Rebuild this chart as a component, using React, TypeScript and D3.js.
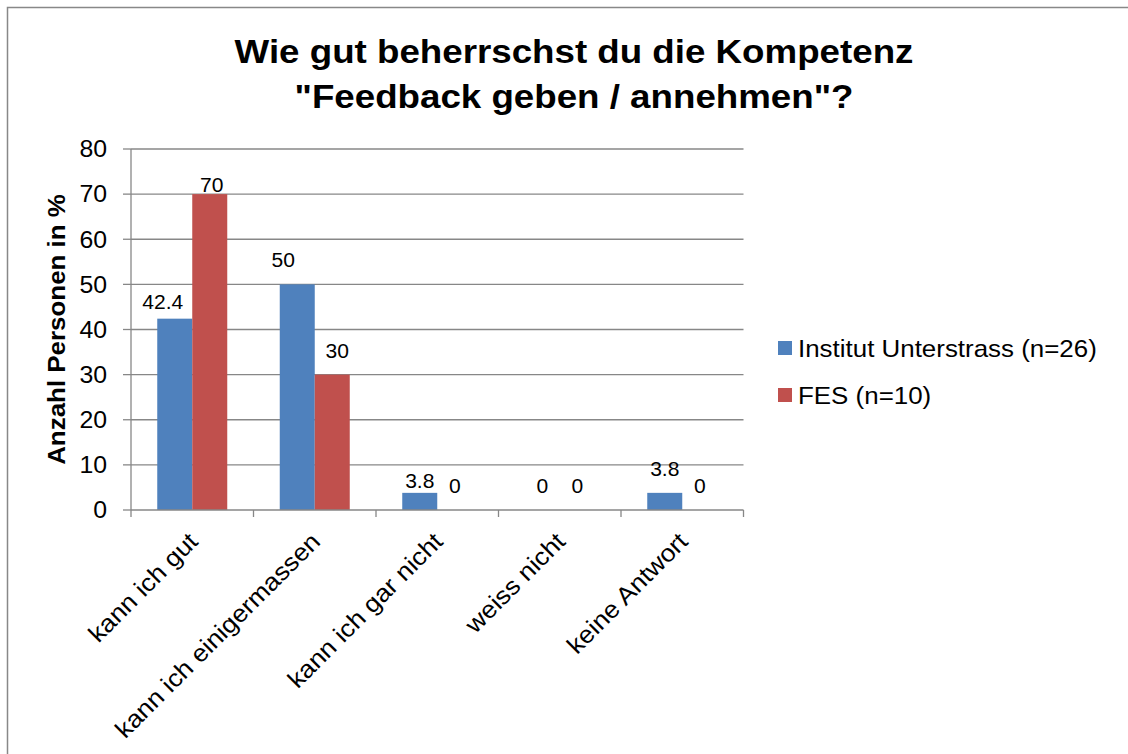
import { useEffect, useRef } from "react";
import * as d3 from "d3";

const categories = ["kann ich gut", "kann ich einigermassen", "kann ich gar nicht", "weiss nicht", "keine Antwort"];
const seriesNames = ["Institut Unterstrass (n=26)", "FES (n=10)"];
const seriesColors = ["#4F81BD", "#C0504D"];
const unterstrass = [42.4, 50, 3.8, 0, 3.8];
const fes = [70, 30, 0, 0, 0];
const yTicks = [0, 10, 20, 30, 40, 50, 60, 70, 80];
const titleLines = ["Wie gut beherrschst du die Kompetenz", "\"Feedback geben / annehmen\"?"];

// some labels were dragged by hand in the original chart: [dx, lift above bar]
const labelNudge: Record<string, [number, number]> = {
  "0-0": [-12, 10],
  "0-1": [-14, 17],
  "1-0": [2, 2],
  "1-1": [5, 17],
  "0-2": [0, 5],
};

const FONT = "'Liberation Sans', Arial, sans-serif";
const SX = 1.08; // the original text renders a bit wider than Arial

export default function App() {
  const svgRef = useRef<SVGSVGElement>(null);

  useEffect(() => {
    if (!svgRef.current) return;
    const svg = d3.select(svgRef.current);
    svg.selectAll("*").remove();

    const width = 1128;
    const height = 754;
    const plot = { left: 131, right: 743.5, top: 149, bottom: 510 };

    // chart area frame (runs off the bottom/right edge like the original)
    svg
      .append("rect")
      .attr("x", 7.5)
      .attr("y", 7.5)
      .attr("width", width + 20)
      .attr("height", height + 20)
      .attr("fill", "#fff")
      .attr("stroke", "#888")
      .attr("stroke-width", 1.5);

    const x0 = d3.scaleBand().domain(categories).range([plot.left, plot.right]).paddingInner(0).paddingOuter(0);
    const bandPad = (x0.bandwidth() - (x0.bandwidth() / 3.5) * 2) / 2;
    const x1 = d3
      .scaleBand()
      .domain(["0", "1"])
      .range([bandPad, x0.bandwidth() - bandPad]);
    const y = d3.scaleLinear().domain([0, 80]).range([plot.bottom, plot.top]);

    // title
    svg
      .append("g")
      .selectAll("text")
      .data(titleLines)
      .enter()
      .append("text")
      .attr("transform", (_, i) => `translate(574, ${63 + i * 45}) scale(${SX},1)`)
      .attr("text-anchor", "middle")
      .style("font-family", FONT)
      .style("font-size", "34px")
      .style("font-weight", "bold")
      .style("fill", "#000")
      .text((d) => d);

    // gridlines
    svg
      .append("g")
      .selectAll("line")
      .data(yTicks.filter((t) => t > 0))
      .enter()
      .append("line")
      .attr("x1", plot.left)
      .attr("x2", plot.right)
      .attr("y1", (d) => y(d))
      .attr("y2", (d) => y(d))
      .attr("stroke", "#878787")
      .attr("stroke-width", 1.3);

    // bars
    const series = [unterstrass, fes];
    series.forEach((vals, s) => {
      svg
        .append("g")
        .selectAll("rect")
        .data(vals)
        .enter()
        .append("rect")
        .attr("x", (_, i) => (x0(categories[i]) as number) + (x1(String(s)) as number))
        .attr("width", x1.bandwidth())
        .attr("y", (d) => y(d))
        .attr("height", (d) => plot.bottom - y(d))
        .attr("fill", seriesColors[s]);
    });

    // data labels
    series.forEach((vals, s) => {
      svg
        .append("g")
        .selectAll("text")
        .data(vals)
        .enter()
        .append("text")
        .attr("transform", (d, i) => {
          const [dx, lift] = labelNudge[`${s}-${i}`] ?? [0, 17];
          const cx = (x0(categories[i]) as number) + (x1(String(s)) as number) + x1.bandwidth() / 2 + dx;
          return `translate(${cx}, ${y(d) - lift}) scale(${SX},1)`;
        })
        .attr("text-anchor", "middle")
        .style("font-family", FONT)
        .style("font-size", "19.5px")
        .style("fill", "#000")
        .text((d) => String(d));
    });

    // axes lines
    const axisColor = "#878787";
    svg
      .append("line")
      .attr("x1", plot.left)
      .attr("x2", plot.left)
      .attr("y1", plot.top)
      .attr("y2", plot.bottom)
      .attr("stroke", axisColor)
      .attr("stroke-width", 1.3);
    svg
      .append("line")
      .attr("x1", plot.left)
      .attr("x2", plot.right)
      .attr("y1", plot.bottom)
      .attr("y2", plot.bottom)
      .attr("stroke", axisColor)
      .attr("stroke-width", 1.3);

    // y ticks + labels
    const yAxis = svg.append("g");
    yAxis
      .selectAll("line")
      .data(yTicks)
      .enter()
      .append("line")
      .attr("x1", plot.left - 8)
      .attr("x2", plot.left)
      .attr("y1", (d) => y(d))
      .attr("y2", (d) => y(d))
      .attr("stroke", axisColor)
      .attr("stroke-width", 1.3);
    yAxis
      .selectAll("text")
      .data(yTicks)
      .enter()
      .append("text")
      .attr("transform", (d) => `translate(107, ${y(d)}) scale(${SX},1)`)
      .attr("text-anchor", "end")
      .attr("dy", "0.36em")
      .style("font-family", FONT)
      .style("font-size", "23px")
      .style("fill", "#000")
      .text((d) => String(d));

    // x ticks + labels
    const xEdges = categories.map((c) => x0(c) as number).concat([plot.right]);
    const xAxis = svg.append("g");
    xAxis
      .selectAll("line")
      .data(xEdges)
      .enter()
      .append("line")
      .attr("x1", (d) => d)
      .attr("x2", (d) => d)
      .attr("y1", plot.bottom)
      .attr("y2", plot.bottom + 7)
      .attr("stroke", axisColor)
      .attr("stroke-width", 1.3);
    xAxis
      .selectAll("text")
      .data(categories)
      .enter()
      .append("text")
      .attr(
        "transform",
        (d) => `translate(${(x0(d) as number) + x0.bandwidth() / 2 + 7}, ${plot.bottom + 33}) rotate(-45) scale(${SX},1)`
      )
      .attr("text-anchor", "end")
      .style("font-family", FONT)
      .style("font-size", "24.5px")
      .style("fill", "#000")
      .text((d) => d);

    // y axis title
    svg
      .append("text")
      .attr("transform", `translate(65, ${(plot.top + plot.bottom) / 2}) rotate(-90) scale(${SX},1)`)
      .attr("text-anchor", "middle")
      .style("font-family", FONT)
      .style("font-size", "24px")
      .style("font-weight", "bold")
      .style("fill", "#000")
      .text("Anzahl Personen in %");

    // legend
    const legend = svg
      .append("g")
      .selectAll("g")
      .data(seriesNames)
      .enter()
      .append("g")
      .attr("transform", (_, i) => `translate(778, ${348 + i * 47})`);
    legend
      .append("rect")
      .attr("x", 0)
      .attr("y", -7)
      .attr("width", 14)
      .attr("height", 14)
      .attr("fill", (_, i) => seriesColors[i]);
    legend
      .append("text")
      .attr("transform", `translate(20, 0) scale(${SX},1)`)
      .attr("dy", "0.36em")
      .style("font-family", FONT)
      .style("font-size", "24px")
      .style("fill", "#000")
      .text((d) => d);
  }, []);

  return (
    <svg
      ref={svgRef}
      width={1128}
      height={754}
      style={{ position: "absolute", left: 0, top: 0, background: "#fff" }}
    />
  );
}
